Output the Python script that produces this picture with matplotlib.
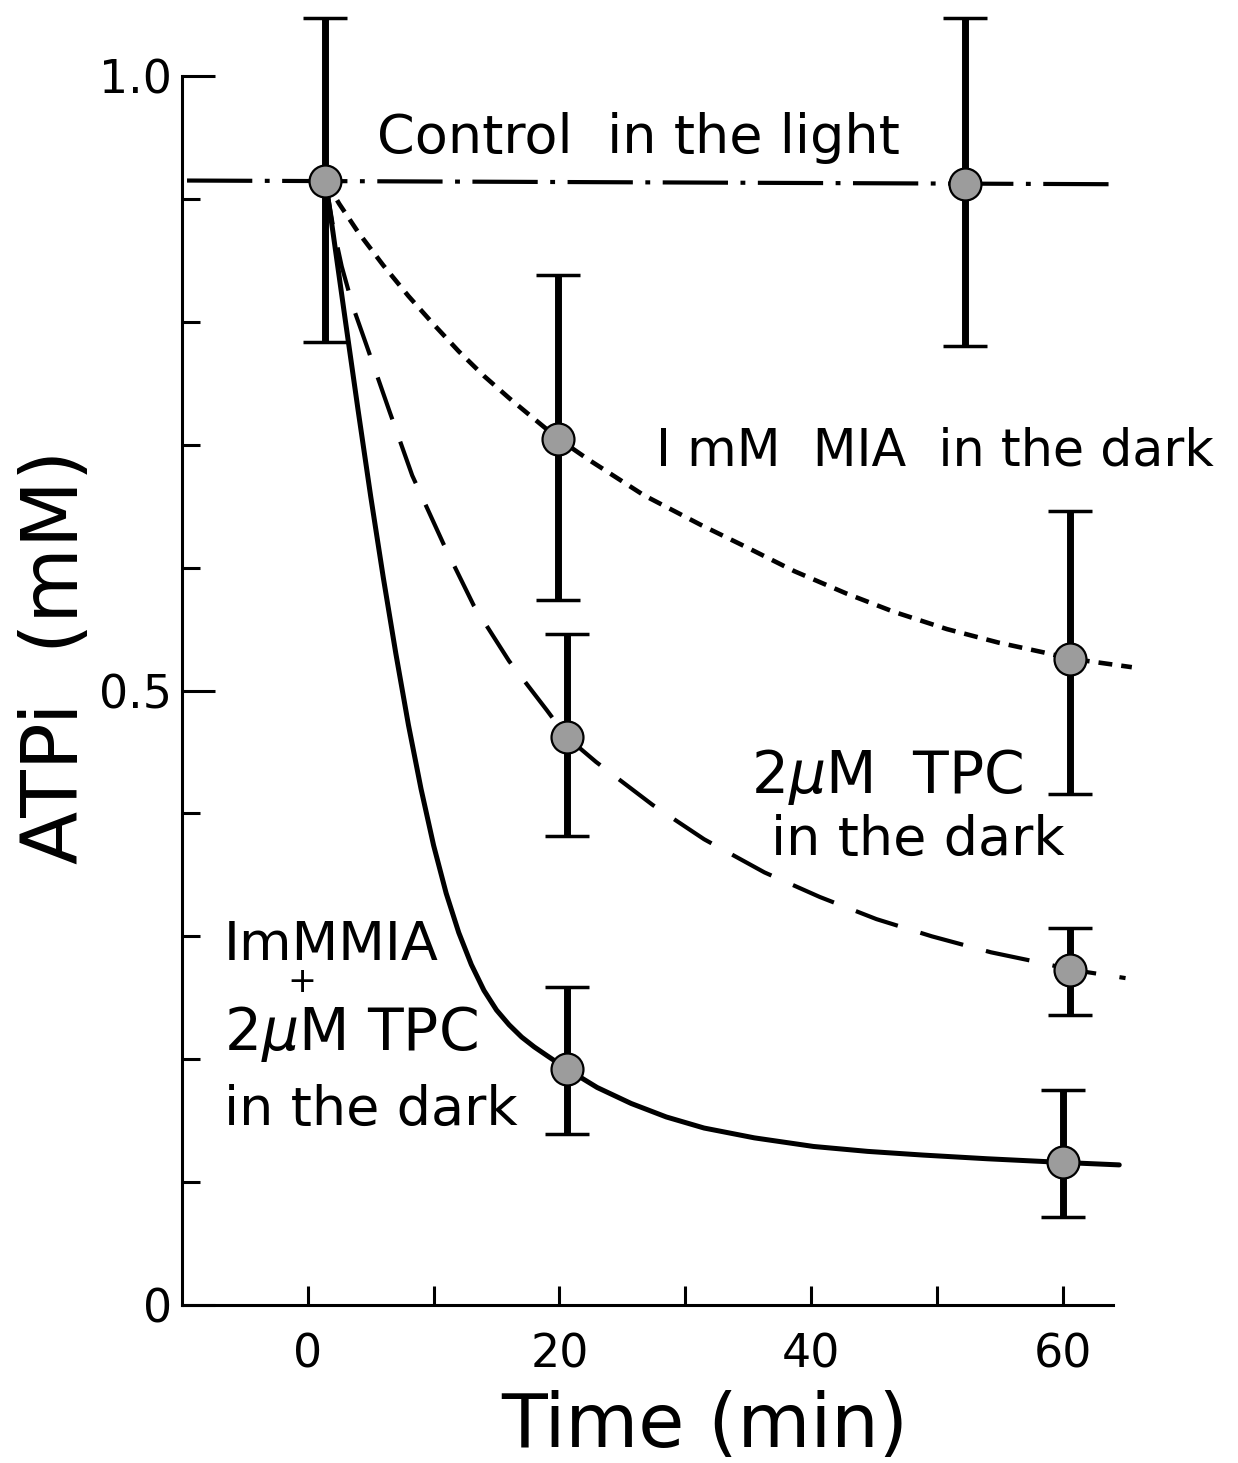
import matplotlib
matplotlib.use("Agg")
import matplotlib.pyplot as plt
import numpy as np

plt.rcParams['font.family'] = ['DejaVu Sans']
plt.rcParams['mathtext.fontset'] = 'dejavusans'
plt.rcParams['lines.scale_dashes'] = False

# measured points: time (min), ATPi (mM), error bar bounds
ctrl_t = [1.4, 52.2]
ctrl_y = [0.915, 0.912]
ctrl_lo = [0.784, 0.780]
ctrl_hi = [1.047, 1.047]

mia_t = [19.9, 60.6]
mia_y = [0.705, 0.526]
mia_lo = [0.574, 0.416]
mia_hi = [0.838, 0.646]

tpc_t = [20.6, 60.6]
tpc_y = [0.462, 0.273]
tpc_lo = [0.382, 0.236]
tpc_hi = [0.546, 0.307]

both_t = [20.6, 60.0]
both_y = [0.192, 0.116]
both_lo = [0.139, 0.072]
both_hi = [0.259, 0.175]

# drawn curves through the points
ctrl_line_t = [-9.6, 64.0]
ctrl_line_y = [0.915, 0.912]

mia_curve_t = [1.4, 2.5, 4.0, 6.0, 8.0, 10.0, 12.0, 14.0, 16.0, 18.0, 19.9,
               22.3, 26.7, 31.2, 34.8, 38.7, 42.8, 46.6, 50.8, 54.9, 58.5, 60.6, 65.5]
mia_curve_y = [0.915, 0.896, 0.873, 0.846, 0.821, 0.798, 0.776, 0.756, 0.738, 0.721, 0.705,
               0.688, 0.659, 0.635, 0.617, 0.597, 0.579, 0.564, 0.550, 0.539, 0.531, 0.526, 0.519]

tpc_curve_t = [1.4, 2.0, 2.7, 3.6, 4.7, 6.5, 8.3, 10.8, 13.2, 16.0, 19.0, 20.6,
               22.9, 27.4, 31.5, 36.3, 40.7, 45.2, 49.6, 54.3, 58.5, 60.6, 65.0]
tpc_curve_y = [0.915, 0.878, 0.845, 0.812, 0.780, 0.727, 0.675, 0.619, 0.569, 0.524, 0.484, 0.462,
               0.442, 0.407, 0.379, 0.352, 0.332, 0.314, 0.300, 0.287, 0.278, 0.273, 0.266]

both_curve_t = [1.4, 2.0, 3.0, 4.0, 5.0, 6.0, 7.0, 8.0, 9.0, 10.0, 11.0, 12.0, 13.0, 14.0,
                15.0, 16.0, 17.0, 18.0, 19.0, 20.6, 23.0, 25.7, 28.5, 31.5, 35.5, 40.2,
                44.5, 48.9, 54.0, 60.0, 64.5]
both_curve_y = [0.915, 0.873, 0.800, 0.728, 0.658, 0.592, 0.530, 0.472, 0.420, 0.374, 0.335,
                0.303, 0.277, 0.256, 0.240, 0.228, 0.218, 0.210, 0.203, 0.192, 0.177, 0.164,
                0.153, 0.144, 0.136, 0.129, 0.125, 0.122, 0.119, 0.116, 0.114]

x_ticks = [0, 10, 20, 30, 40, 50, 60]
x_labels = ['0', '', '20', '', '40', '', '60']
y_ticks = [0.0, 0.1, 0.2, 0.3, 0.4, 0.5, 0.6, 0.7, 0.8, 0.9, 1.0]
y_labels = ['0', '', '', '', '', '0.5', '', '', '', '', '1.0']

fig = plt.figure(figsize=(12.38, 14.63), dpi=100)
ax = fig.add_axes([0.147, 0.108, 0.752, 0.840])

ax.plot(ctrl_line_t, ctrl_line_y, color='black', lw=3.0,
        linestyle=(0, (47, 9, 3.5, 9)), clip_on=False, zorder=2)
ax.plot(mia_curve_t, mia_curve_y, color='black', lw=3.3,
        linestyle=(0, (10, 6.5)), clip_on=False, zorder=2)
ax.plot(tpc_curve_t, tpc_curve_y, color='black', lw=3.0,
        linestyle=(0, (32, 17)), clip_on=False, zorder=2)
ax.plot(both_curve_t, both_curve_y, color='black', lw=3.6,
        solid_capstyle='round', solid_joinstyle='round', clip_on=False, zorder=2)

for t, y, lo, hi in [(ctrl_t, ctrl_y, ctrl_lo, ctrl_hi),
                     (mia_t, mia_y, mia_lo, mia_hi),
                     (tpc_t, tpc_y, tpc_lo, tpc_hi),
                     (both_t, both_y, both_lo, both_hi)]:
    y = np.array(y)
    err = [y - np.array(lo), np.array(hi) - y]
    eb = ax.errorbar(t, y, yerr=err, fmt='none', ecolor='black', elinewidth=5,
                     capsize=16, capthick=2.5, zorder=3)
    for art in eb.lines[1] + eb.lines[2]:
        art.set_clip_on(False)
    for col in eb[2]:
        col.set_clip_on(False)
    ax.plot(t, y, 'o', ms=23, mfc='#9c9c9c', mec='black', mew=1.6,
            zorder=4, clip_on=False)

ax.set_xlim(-10, 64)
ax.set_ylim(0, 1.0)
ax.set_xticks(x_ticks)
ax.set_xticklabels(x_labels)
ax.set_yticks(y_ticks)
ax.set_yticklabels(y_labels)

for side in ['top', 'right']:
    ax.spines[side].set_visible(False)
for side in ['left', 'bottom']:
    ax.spines[side].set_linewidth(2.2)

ax.tick_params(axis='x', direction='in', length=14, width=2.2, pad=20, labelsize=33)
ax.tick_params(axis='y', direction='in', length=13, width=2.2, pad=7, labelsize=33)
for tick, lab in zip(ax.yaxis.get_major_ticks(), y_labels):
    if lab:
        tick.tick1line.set_markersize(24)

txt = dict(fontsize=39, color='black')
ax.text(5.5, 0.937, 'Control  in the light', ha='left', va='baseline', **txt)
ax.text(27.7, 0.6835, 'I mM  MIA  in the dark', ha='left', va='baseline',
        fontsize=36.5, color='black')
ax.text(35.2, 0.417, r'2$\mu$M  TPC', ha='left', va='baseline', fontsize=42)
ax.text(36.8, 0.366, 'in the dark', ha='left', va='baseline', **txt)
ax.text(-6.7, 0.2807, 'ImMMIA', ha='left', va='baseline', **txt)
ax.text(-0.5, 0.263, '+', ha='center', va='center', fontsize=25)
ax.text(-6.7, 0.2075, r'2$\mu$M TPC', ha='left', va='baseline', fontsize=42)
ax.text(-6.7, 0.1465, 'in the dark', ha='left', va='baseline', **txt)

fig.text(0.5695, 0.011, 'Time (min)', ha='center', va='baseline', fontsize=54)
fig.text(0.063, 0.551, 'ATPi  (mM)', ha='center', va='baseline', fontsize=56,
         rotation=90, rotation_mode='anchor')

fig.savefig('out.png', dpi=100)
